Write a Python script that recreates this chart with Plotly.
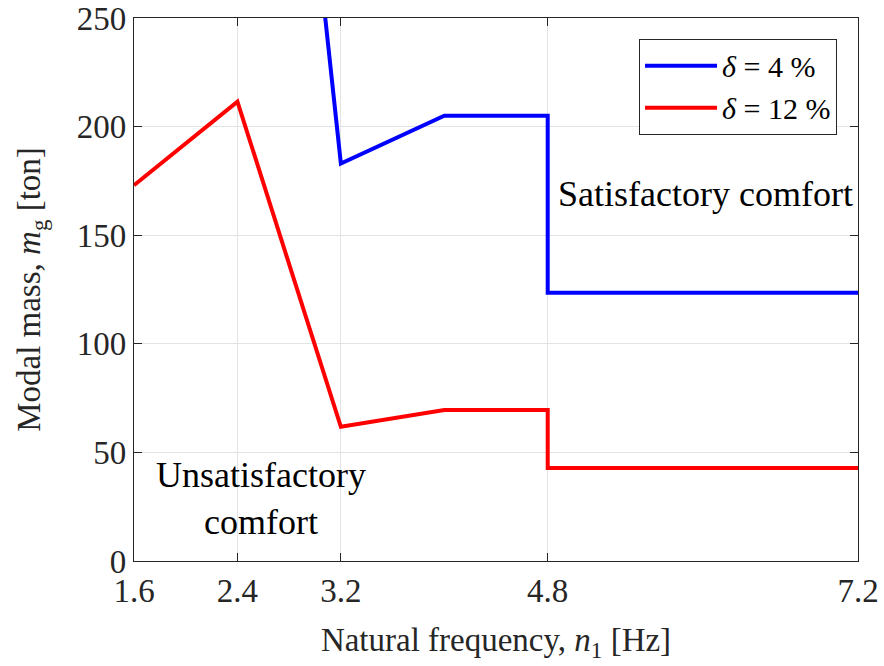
import plotly.graph_objects as go

# Data
freq_blue = [2.4, 3.2, 4.0, 4.8, 4.8, 7.2]
mass_blue = [627, 183, 205, 205, 123.5, 123.5]   # delta = 4 %
freq_red = [1.6, 2.4, 3.2, 4.0, 4.8, 4.8, 7.2]
mass_red = [173, 211.5, 61.8, 69.5, 69.5, 42.8, 42.8]  # delta = 12 %

x_ticks = [1.6, 2.4, 3.2, 4.8, 7.2]
x_tick_text = ["1.6", "2.4", "3.2", "4.8", "7.2"]
y_ticks = [0, 50, 100, 150, 200, 250]

FONT = "Liberation Serif, Times New Roman, serif"
AX = "#262626"
FS = 33

fig = go.Figure()
fig.add_trace(go.Scatter(x=freq_blue, y=mass_blue, mode="lines",
                         line=dict(color="#0000ff", width=4),
                         name="<i>δ</i> = 4 %"))
fig.add_trace(go.Scatter(x=freq_red, y=mass_red, mode="lines",
                         line=dict(color="#ff0000", width=4),
                         name="<i>δ</i> = 12 %"))

fig.update_layout(
    width=884, height=666,
    margin=dict(l=134, r=26, t=18, b=105, autoexpand=False),
    paper_bgcolor="white", plot_bgcolor="white",
    font=dict(family=FONT, size=FS, color="#262626"),
    showlegend=True,
    legend=dict(x=0.971, y=0.962, xanchor="right", yanchor="top",
                bgcolor="white", bordercolor=AX, borderwidth=1,
                font=dict(family=FONT, size=30, color="black"),
                tracegroupgap=0, itemwidth=72),
)
fig.update_xaxes(range=[1.6, 7.2], tickvals=x_ticks, ticktext=x_tick_text,
                 automargin=False,
                 showgrid=True, gridcolor="#e3e3e3", gridwidth=1,
                 showline=True, linecolor=AX, linewidth=1.3, mirror="ticks",
                 ticks="inside", ticklen=8, tickcolor=AX, zeroline=False,
                 tickfont=dict(size=FS, color="#262626"),
                 title=dict(text="Natural frequency, <i>n</i><sub>1</sub> [Hz]",
                            font=dict(size=FS, color="#262626"), standoff=20))
fig.update_yaxes(range=[0, 250], tickvals=y_ticks,
                 automargin=False,
                 showgrid=True, gridcolor="#e3e3e3", gridwidth=1,
                 showline=True, linecolor=AX, linewidth=1.3, mirror="ticks",
                 ticks="inside", ticklen=8, tickcolor=AX, zeroline=False,
                 tickfont=dict(size=FS, color="#262626"),
                 title=dict(text="Modal mass, <i>m</i><sub>g</sub> [ton]",
                            font=dict(size=FS, color="#262626"), standoff=26))

fig.add_annotation(x=6.02, y=169, text="Satisfactory comfort", showarrow=False,
                   font=dict(family=FONT, size=36, color="black"))
fig.add_annotation(x=2.58, y=29, text="Unsatisfactory<br>comfort", showarrow=False,
                   font=dict(family=FONT, size=36, color="black"))

fig.write_html("out.html")
